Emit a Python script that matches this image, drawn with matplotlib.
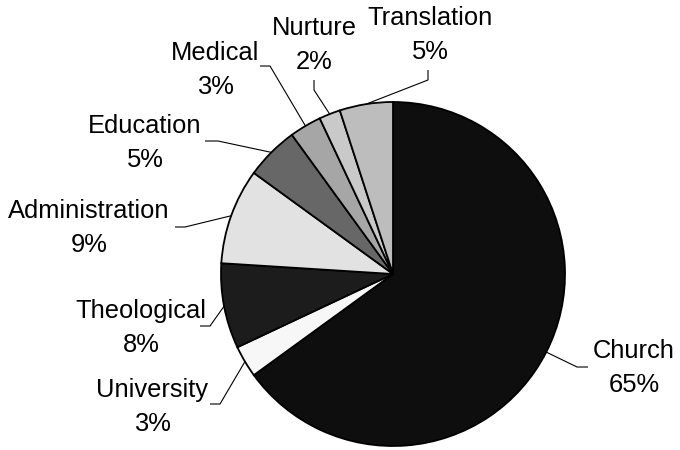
import numpy as np
import matplotlib
matplotlib.use('Agg')
import matplotlib.pyplot as plt

plt.rcParams['font.family'] = ['Liberation Sans', 'DejaVu Sans']

# Mission spending shares, clockwise from 12 o'clock
categories = ['Church', 'University', 'Theological', 'Administration',
              'Education', 'Medical', 'Nurture', 'Translation']
shares = [65, 3, 8, 9, 5, 3, 2, 5]
fills = ['#0e0e0e', '#f7f7f7', '#1c1c1c', '#e2e2e2',
         '#676767', '#a6a6a6', '#c9c9c9', '#bdbdbd']

# label layout in pixels from the top-left: text centre x, name baseline,
# leader start and elbow
label_x = [634, 152, 141, 89, 145, 215, 314, 430]
label_base = [358, 397, 318, 218, 133, 60, 35, 25]
leader_start = [(588, 367), (210, 404), (200, 326), (175, 227),
                (205, 141), (260, 66), (314, 80), (428, 70)]
leader_elbow = [(577, 367), (220, 404), (210, 326), (185, 227),
                (218, 141), (270, 66), (314, 90), (428, 80)]

W, H = 680, 450
cx, cy, r = 393, 274, 172

fig = plt.figure(figsize=(W / 100, H / 100), dpi=100)
ax = fig.add_axes([0, 0, 1, 1])

wedges, _ = ax.pie(shares, colors=fills, startangle=90, counterclock=False,
                   center=(cx, H - cy), radius=r,
                   wedgeprops=dict(edgecolor='black', linewidth=1.3))
ax.set_xlim(0, W)
ax.set_ylim(0, H)
ax.set_aspect('equal')
ax.axis('off')

for w, name, val, lx, lb, p0, p1 in zip(wedges, categories, shares, label_x,
                                       label_base, leader_start, leader_elbow):
    mid = np.deg2rad((w.theta1 + w.theta2) / 2)
    ex = cx + r * np.cos(mid)
    ey = (H - cy) + r * np.sin(mid)
    ax.plot([p0[0], p1[0], ex], [H - p0[1], H - p1[1], ey],
            color='black', lw=0.8, solid_capstyle='butt')
    ax.text(lx, H - lb, name, ha='center', va='baseline', fontsize=18.4)
    ax.text(lx, H - lb - 34, f'{val}%', ha='center', va='baseline',
            fontsize=18.4)

plt.savefig('out.png', dpi=100)
